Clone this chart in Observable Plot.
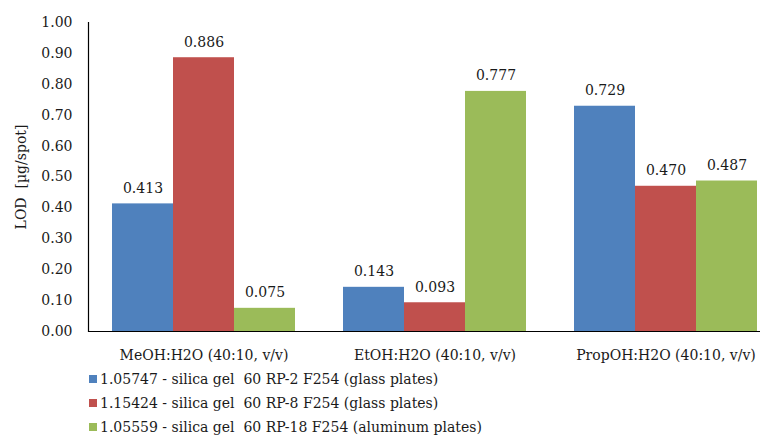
<!DOCTYPE html>
<html>
<head>
<meta charset="utf-8">
<script src="https://cdn.jsdelivr.net/npm/d3@7"></script>
<script src="https://cdn.jsdelivr.net/npm/@observablehq/plot@0.6"></script>
<style>
  html, body { margin: 0; padding: 0; background: #fff; }
  #wrap { width: 760px; height: 439px; overflow: hidden; position: relative; font-family: "DejaVu Serif", serif; color: #1a1a1a; }
  #legend { position: absolute; left: 89px; top: 367px; font-size: 14px; font-family: "DejaVu Serif", serif; }
  .row { height: 24px; display: flex; align-items: center; white-space: pre; }
  .sw { width: 8px; height: 8px; margin-right: 3px; flex: none; }
</style>
</head>
<body>
<div id="wrap"><div id="chart"></div><div id="legend"></div></div>
<script>
// solvent systems (x categories)
const categories = ["MeOH:H2O (40:10, v/v)", "EtOH:H2O (40:10, v/v)", "PropOH:H2O (40:10, v/v)"];
// stationary phases (series)
const series = [
  "1.05747 - silica gel  60 RP-2 F254 (glass plates)",
  "1.15424 - silica gel  60 RP-8 F254 (glass plates)",
  "1.05559 - silica gel  60 RP-18 F254 (aluminum plates)"
];
// LOD values [µg/spot], one per solvent system
const rp2 = [0.413, 0.143, 0.729];
const rp8 = [0.886, 0.093, 0.470];
const rp18 = [0.075, 0.777, 0.487];
const colors = ["#4F81BD", "#C0504D", "#9BBB59"];
const yTicks = [0.00, 0.10, 0.20, 0.30, 0.40, 0.50, 0.60, 0.70, 0.80, 0.90, 1.00];

const values = [rp2, rp8, rp18];
const rows = [];
categories.forEach((c, i) => series.forEach((s, j) => rows.push({cat: c, ser: s, lod: values[j][i]})));

const chart = Plot.plot({
  width: 782,
  height: 372,
  marginLeft: 87,
  marginRight: 0,
  marginTop: 22,
  marginBottom: 41,
  style: {fontFamily: "DejaVu Serif, serif", fontSize: "14px", color: "#1a1a1a", background: "#fff", maxWidth: "none"},
  fx: {domain: categories, padding: 0, label: null},
  x: {domain: series, axis: null, paddingInner: 0, paddingOuter: 0.38},
  y: {domain: [0, 1]},
  color: {domain: series, range: colors},
  marks: [
    Plot.barY(rows, {fx: "cat", x: "ser", y: "lod", fill: "ser"}),
    Plot.text(rows, {fx: "cat", x: "ser", y: "lod", text: d => d.lod.toFixed(3), lineAnchor: "bottom", dy: -11, fill: "#1a1a1a", fontSize: 14}),
    Plot.ruleY([0], {stroke: "#000", strokeWidth: 1.2}),
    Plot.frame({anchor: "left", facet: "super", stroke: "#000", strokeWidth: 1.2}),
    Plot.axisY({ticks: yTicks, tickFormat: d3.format(".2f"), tickSize: 0, tickPadding: 16, fontSize: 14, label: "LOD  [µg/spot]", labelAnchor: "center", labelOffset: 72, labelArrow: false}),
    Plot.axisFx({anchor: "bottom", tickSize: 0, tickPadding: 19, fontSize: 14, label: null})
  ]
});
document.getElementById("chart").appendChild(chart);

const legend = document.getElementById("legend");
series.forEach((s, j) => {
  const row = document.createElement("div");
  row.className = "row";
  const sw = document.createElement("span");
  sw.className = "sw";
  sw.style.background = colors[j];
  row.appendChild(sw);
  row.appendChild(document.createTextNode(s));
  legend.appendChild(row);
});
</script>
</body>
</html>
